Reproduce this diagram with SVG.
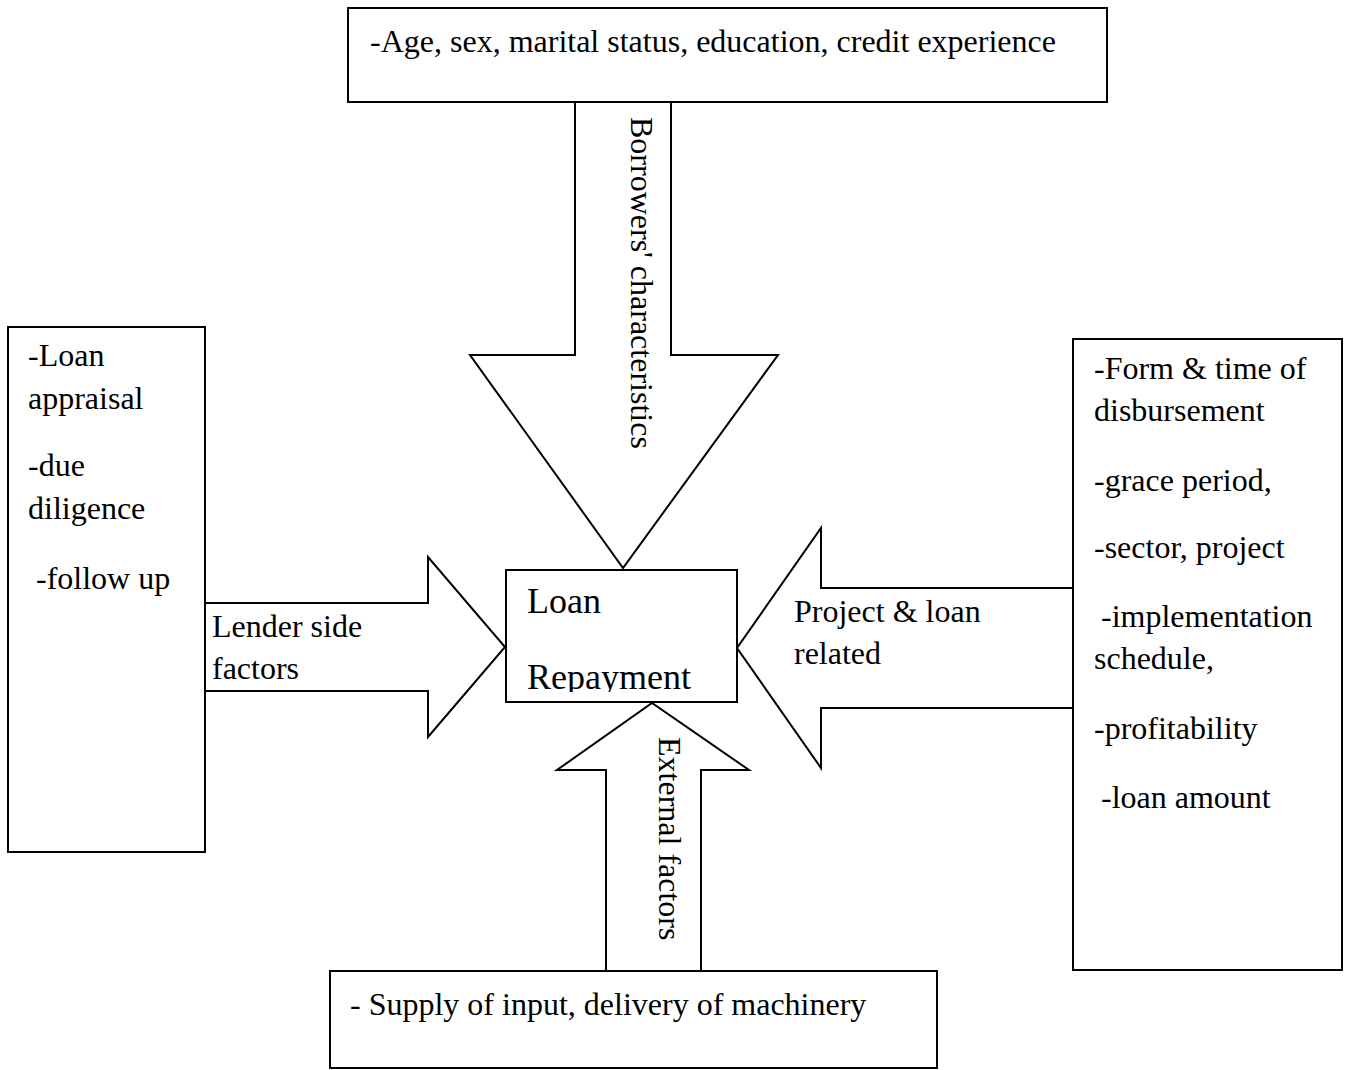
<svg xmlns="http://www.w3.org/2000/svg" width="1345" height="1070" viewBox="0 0 1345 1070">
<style>
.box{fill:#fff;stroke:#000;stroke-width:2}
.arr{fill:#fff;stroke:#000;stroke-width:2;stroke-linejoin:miter}
text{font-family:"Liberation Serif","Times New Roman",serif;font-size:32px;fill:#000}
.big{font-size:36px}
</style>
<defs>
<clipPath id="clipCenter"><rect x="507" y="571" width="229" height="121"/></clipPath>
</defs>
<rect x="0" y="0" width="1345" height="1070" fill="#fff"/>
<g id="connectors">
<g id="arrow-borrowers">
<polygon class="arr" points="575,102 671,102 671,355 778,355 623,568 470,355 575,355"/>
<text transform="translate(631,117) rotate(90)">Borrowers' characteristics</text>
</g>
<g id="arrow-lender">
<polygon class="arr" points="205,603 428,603 428,557 505,647 428,737 428,691 205,691"/>
<text x="212" y="637">Lender side</text>
<text x="212" y="679">factors</text>
</g>
<g id="arrow-project">
<polygon class="arr" points="1073,588 821,588 821,528 737,648 821,768 821,708 1073,708"/>
<text x="794" y="622">Project &amp; loan</text>
<text x="794" y="664">related</text>
</g>
<g id="arrow-external">
<polygon class="arr" points="606,971 606,770 557,770 652,703 749,770 701,770 701,971"/>
<text transform="translate(659,737) rotate(90)">External factors</text>
</g>
</g>
<g id="node-borrowers">
<rect class="box" x="348" y="8" width="759" height="94"/>
<text x="370" y="52">-Age, sex, marital status, education, credit experience</text>
</g>
<g id="node-lender">
<rect class="box" x="8" y="327" width="197" height="525"/>
<text x="28" y="366">-Loan</text>
<text x="28" y="409">appraisal</text>
<text x="28" y="476">-due</text>
<text x="28" y="519">diligence</text>
<text x="36" y="589">-follow up</text>
</g>
<g id="node-project">
<rect class="box" x="1073" y="339" width="269" height="631"/>
<text x="1094" y="379">-Form &amp; time of</text>
<text x="1094" y="421">disbursement</text>
<text x="1094" y="491">-grace period,</text>
<text x="1094" y="558">-sector, project</text>
<text x="1101" y="627">-implementation</text>
<text x="1094" y="669">schedule,</text>
<text x="1094" y="739">-profitability</text>
<text x="1101" y="808">-loan amount</text>
</g>
<g id="node-external">
<rect class="box" x="330" y="971" width="607" height="97"/>
<text x="350" y="1015">- Supply of input, delivery of machinery</text>
</g>
<g id="node-center">
<rect class="box" x="506" y="570" width="231" height="132"/>
<g clip-path="url(#clipCenter)">
<text class="big" x="527" y="613">Loan</text>
<text class="big" x="527" y="689">Repayment</text>
</g>
</g>
</svg>
